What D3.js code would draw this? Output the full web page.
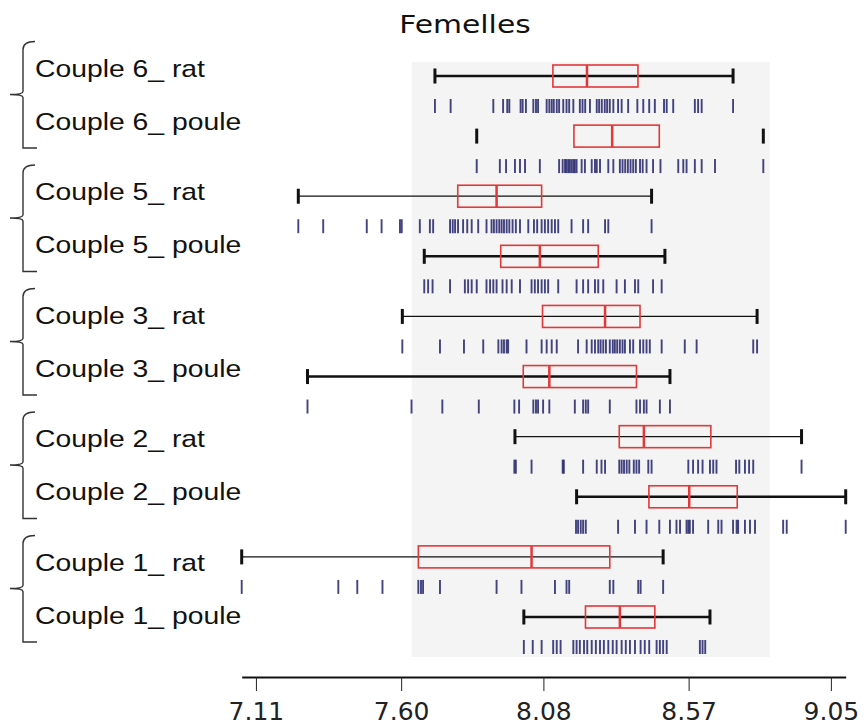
<!DOCTYPE html>
<html lang="fr">
<head>
  <meta charset="UTF-8">
  <title>Femelles</title>
  <script src="https://d3js.org/d3.v7.min.js"></script>
  <style>
    body { margin: 0; background: white; }
    .label { font-family: "Liberation Sans", Arial, sans-serif; font-size: 24px; fill: #111; }
    .title { font-family: "DejaVu Sans", sans-serif; font-size: 25px; fill: #111; }
    .axis text { font-family: "DejaVu Sans", sans-serif; font-size: 25px; fill: #222; }
  </style>
</head>
<body>
  <svg width="864" height="726"></svg>
  <script>
    // one entry per row, top to bottom
    const rows = ["Couple 6_ rat", "Couple 6_ poule", "Couple 5_ rat", "Couple 5_ poule",
                  "Couple 3_ rat", "Couple 3_ poule", "Couple 2_ rat", "Couple 2_ poule",
                  "Couple 1_ rat", "Couple 1_ poule"];
    const pairs = ["Couple 6", "Couple 5", "Couple 3", "Couple 2", "Couple 1"];

    const mins    = [7.714, 7.855, 7.253, 7.678, 7.604, 7.284, 7.984, 8.192, 7.062, 8.014];
    const q1s     = [8.112, 8.183, 7.791, 7.936, 8.077, 8.012, 8.336, 8.436, 7.658, 8.222];
    const medians = [8.227, 8.312, 7.922, 8.068, 8.288, 8.100, 8.419, 8.572, 8.040, 8.338];
    const q3s     = [8.399, 8.471, 8.074, 8.265, 8.406, 8.394, 8.645, 8.734, 8.304, 8.456];
    const maxs    = [8.720, 8.822, 8.445, 8.490, 8.801, 8.507, 8.951, 9.100, 8.484, 8.642];

    const rug6Rat = [7.714, 7.767, 7.911, 7.944, 7.958, 7.965, 8.003, 8.010, 8.021, 8.046, 8.055, 8.062,
      8.091, 8.100, 8.108, 8.115, 8.125, 8.133, 8.147, 8.158, 8.167, 8.181, 8.203, 8.212, 8.221, 8.237,
      8.260, 8.268, 8.277, 8.287, 8.295, 8.304, 8.316, 8.332, 8.344, 8.366, 8.397, 8.417, 8.437, 8.456,
      8.487, 8.496, 8.518, 8.591, 8.602, 8.614, 8.720];
    const rug6Poule = [7.855, 7.933, 7.954, 7.984, 8.001, 8.018, 8.068, 8.133, 8.145, 8.153, 8.158, 8.164,
      8.169, 8.175, 8.181, 8.186, 8.192, 8.209, 8.220, 8.243, 8.254, 8.260, 8.271, 8.299, 8.316, 8.338,
      8.347, 8.356, 8.365, 8.374, 8.383, 8.392, 8.406, 8.415, 8.428, 8.450, 8.475, 8.535, 8.552, 8.563,
      8.591, 8.614, 8.659, 8.822];
    const rug5Rat = [7.253, 7.337, 7.484, 7.534, 7.596, 7.602, 7.663, 7.697, 7.708, 7.765, 7.774, 7.782,
      7.792, 7.809, 7.823, 7.838, 7.860, 7.888, 7.905, 7.913, 7.922, 7.931, 7.939, 7.947, 7.956, 7.965,
      7.976, 7.987, 8.001, 8.029, 8.048, 8.059, 8.074, 8.085, 8.096, 8.108, 8.119, 8.130, 8.175, 8.214,
      8.231, 8.288, 8.299, 8.445];
    const rug5Poule = [7.678, 7.691, 7.706, 7.765, 7.815, 7.826, 7.838, 7.855, 7.888, 7.900, 7.911, 7.922,
      7.942, 7.956, 7.973, 8.001, 8.040, 8.051, 8.062, 8.074, 8.085, 8.096, 8.130, 8.192, 8.214, 8.231,
      8.254, 8.265, 8.282, 8.327, 8.355, 8.389, 8.400, 8.450, 8.479];
    const rug3Rat = [7.604, 7.731, 7.812, 7.877, 7.928, 7.939, 7.947, 7.956, 7.961, 8.023, 8.074, 8.091,
      8.108, 8.125, 8.197, 8.226, 8.243, 8.254, 8.265, 8.273, 8.282, 8.291, 8.304, 8.314, 8.321, 8.329,
      8.338, 8.347, 8.355, 8.372, 8.383, 8.406, 8.417, 8.428, 8.439, 8.479, 8.557, 8.597, 8.788, 8.801];
    const rug3Poule = [7.284, 7.635, 7.739, 7.862, 7.982, 7.998, 8.046, 8.055, 8.062, 8.079, 8.100, 8.186,
      8.214, 8.223, 8.231, 8.304, 8.394, 8.406, 8.419, 8.428, 8.473, 8.507];
    const rug2Rat = [7.982, 7.987, 8.040, 8.145, 8.149, 8.214, 8.260, 8.276, 8.288, 8.336, 8.344, 8.352,
      8.361, 8.370, 8.385, 8.394, 8.403, 8.434, 8.445, 8.569, 8.585, 8.602, 8.617, 8.642, 8.653, 8.664,
      8.730, 8.741, 8.760, 8.774, 8.788, 8.951];
    const rug2Poule = [8.190, 8.197, 8.206, 8.214, 8.223, 8.332, 8.389, 8.428, 8.471, 8.507, 8.529, 8.541,
      8.563, 8.569, 8.574, 8.585, 8.636, 8.670, 8.681, 8.720, 8.732, 8.737, 8.760, 8.777, 8.794, 8.889,
      8.901, 9.100];
    const rug1Rat = [7.062, 7.388, 7.452, 7.537, 7.658, 7.667, 7.674, 7.731, 7.922, 8.006, 8.119, 8.158,
      8.167, 8.304, 8.316, 8.400, 8.408, 8.484];
    const rug1Poule = [8.014, 8.044, 8.074, 8.113, 8.125, 8.138, 8.181, 8.192, 8.203, 8.217, 8.228, 8.243,
      8.257, 8.271, 8.284, 8.299, 8.314, 8.327, 8.344, 8.358, 8.372, 8.389, 8.408, 8.422, 8.437, 8.462,
      8.473, 8.484, 8.496, 8.608, 8.617, 8.626];
    const rugs = [rug6Rat, rug6Poule, rug5Rat, rug5Poule, rug3Rat, rug3Poule, rug2Rat, rug2Poule, rug1Rat, rug1Poule];

    const refRange = [7.636, 8.844];
    const tickValues = [7.11, 7.60, 8.08, 8.57, 9.05];

    // whisker weight per row (0 = not drawn)
    const whiskerWidth = [2.5, 0, 1.2, 2.5, 1.2, 2.5, 1.2, 2.5, 1.2, 2.5];

    const svg = d3.select("svg");
    const x = d3.scaleLinear().domain([d3.min(mins), d3.max(maxs)]).range([241.7, 845.7]);
    const y = d3.scalePoint().domain(rows).range([76, 617]);
    // label block uses its own spacing: one slot per couple
    const yPair = d3.scalePoint().domain(pairs).range([94.5, 588.5]);
    const labelGap = 53;
    const rugOffset = 30, boxH = 22, capH = 15, rugH = 14;

    // reference band
    svg.append("rect")
      .attr("x", x(refRange[0])).attr("width", x(refRange[1]) - x(refRange[0]))
      .attr("y", 62).attr("height", 595)
      .attr("fill", "#f4f4f4");

    svg.append("text").attr("class", "title")
      .attr("transform", "translate(465,33) scale(1.19,1)")
      .attr("text-anchor", "middle")
      .text("Femelles");

    const row = svg.selectAll(".row").data(rows).enter().append("g")
      .attr("class", "row")
      .attr("transform", d => `translate(0,${y(d)})`);

    // rug
    row.each(function(d, i) {
      d3.select(this).selectAll("line.rug").data(rugs[i]).enter().append("line")
        .attr("class", "rug")
        .attr("x1", v => x(v)).attr("x2", v => x(v))
        .attr("y1", rugOffset - rugH / 2).attr("y2", rugOffset + rugH / 2)
        .attr("stroke", "#22226a").attr("stroke-width", 1.9).attr("stroke-opacity", 0.85);
    });

    // whisker line
    row.append("line")
      .attr("x1", (d, i) => x(mins[i])).attr("x2", (d, i) => x(maxs[i]))
      .attr("stroke", "#111").attr("stroke-width", (d, i) => whiskerWidth[i])
      .attr("display", (d, i) => whiskerWidth[i] ? null : "none");

    // caps
    ["min", "max"].forEach(k => {
      row.append("line")
        .attr("x1", (d, i) => x(k === "min" ? mins[i] : maxs[i]))
        .attr("x2", (d, i) => x(k === "min" ? mins[i] : maxs[i]))
        .attr("y1", -capH / 2).attr("y2", capH / 2)
        .attr("stroke", "#111").attr("stroke-width", 3);
    });

    // box
    row.append("rect")
      .attr("x", (d, i) => x(q1s[i])).attr("width", (d, i) => x(q3s[i]) - x(q1s[i]))
      .attr("y", -boxH / 2).attr("height", boxH)
      .attr("fill", "none").attr("stroke", "#e2383a").attr("stroke-width", 1.6);

    row.append("line")
      .attr("x1", (d, i) => x(medians[i])).attr("x2", (d, i) => x(medians[i]))
      .attr("y1", -boxH / 2).attr("y2", boxH / 2)
      .attr("stroke", "#e2383a").attr("stroke-width", 2.5);

    // row labels (baseline = centre of caps + 8.5)
    svg.selectAll(".label").data(rows).enter().append("text")
      .attr("class", "label")
      .attr("transform", (d, i) => {
        const c = yPair(pairs[Math.floor(i / 2)]) + (i % 2 ? labelGap / 2 : -labelGap / 2);
        return `translate(35,${c + 8.5}) scale(1.18,1)`;
      })
      .text(d => d);

    // brackets per couple
    pairs.forEach(p => {
      const ym = yPair(p);
      const yTop = ym - 53, yBot = ym + 53.5;
      const bx = 23;
      svg.append("path")
        .attr("d", `M${bx + 12},${yTop} Q${bx},${yTop} ${bx},${yTop + 8} L${bx},${ym - 3} Q${bx},${ym} ${bx - 13},${ym} ` +
                   `M${bx},${ym + 3} Q${bx},${ym} ${bx - 13},${ym} M${bx},${ym + 3} L${bx},${yBot} L${bx + 14},${yBot}`)
        .attr("fill", "none").attr("stroke", "#333").attr("stroke-width", 1.4);
    });

    // axis
    const axis = svg.append("g").attr("class", "axis")
      .attr("transform", "translate(0,677)")
      .call(d3.axisBottom(x).tickValues(tickValues).tickFormat(d3.format(".2f")).tickSize(14).tickSizeOuter(0).tickPadding(11));
    axis.select(".domain").attr("stroke-width", 2.2).attr("stroke", "#111");
    axis.selectAll(".tick line").attr("stroke", "#222");
  </script>
</body>
</html>
